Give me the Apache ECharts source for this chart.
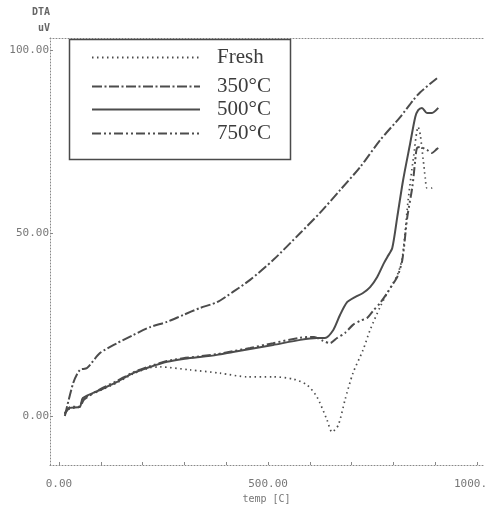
<!DOCTYPE html>
<html>
<head>
<meta charset="utf-8">
<script src="https://cdn.jsdelivr.net/npm/echarts@6/dist/echarts.min.js"></script>
<style>
  html, body { margin: 0; padding: 0; background: #fff; }
  #dtaChart { width: 485px; height: 505px; }
</style>
</head>
<body>
<div id="dtaChart"></div>
<script>
// temperature (C) / DTA (uV)
const tempFresh = [14, 26, 50, 57, 98, 139, 177, 218, 242, 313, 385, 450, 512, 560, 593, 617, 641, 653, 668, 684, 703, 727, 744, 768, 785, 809, 821, 835, 847, 859, 864, 871, 876, 880, 892, 900];
const dtaFresh  = [0.8, 2, 2.5, 4.7, 6.9, 9.1, 11.5, 13.2, 13.4, 12.6, 11.7, 10.7, 10.7, 10.1, 8.5, 5.2, -1.1, -4.4, -2.5, 4.4, 11.7, 18, 23.5, 29.8, 33.6, 38.5, 43.2, 59, 70, 79, 76.8, 70, 65, 62.3, 62.3, 62.8];

const temp350 = [14, 34, 50, 67, 98, 139, 177, 218, 258, 297, 337, 378, 416, 457, 512, 577, 624, 672, 720, 768, 816, 847, 864, 904];
const dta350  = [0, 9, 12.6, 13.1, 17.2, 19.9, 22.1, 24.3, 25.7, 27.6, 29.5, 31.1, 33.9, 37.2, 42.6, 50, 55.5, 61.7, 68, 75.4, 81.7, 86.3, 88.5, 92.3];

const temp500 = [14, 26, 50, 57, 98, 139, 177, 218, 258, 297, 337, 378, 416, 457, 512, 577, 617, 636, 656, 672, 689, 708, 727, 744, 761, 775, 785, 797, 809, 823, 840, 852, 859, 868, 880, 892, 907];
const dta500  = [0.8, 2.2, 2.5, 4.9, 7.1, 9.3, 11.7, 13.4, 14.8, 15.6, 16.1, 16.7, 17.5, 18.3, 19.4, 20.8, 21.3, 21.3, 23.5, 27.6, 31.1, 32.5, 33.6, 35.2, 38, 41.3, 43.4, 45.9, 54.4, 64.5, 74.6, 81.7, 83.6, 84.2, 82.8, 82.8, 84.2];

const temp750 = [14, 26, 50, 60, 98, 139, 177, 218, 258, 297, 337, 378, 416, 457, 512, 577, 610, 632, 648, 665, 684, 703, 720, 737, 751, 768, 785, 797, 809, 821, 833, 845, 852, 856, 864, 880, 892, 904, 911];
const dta750  = [0.5, 2.4, 2.6, 4.5, 7.3, 9.6, 11.9, 13.6, 15, 15.8, 16.3, 16.9, 17.7, 18.6, 19.9, 21.4, 21.6, 20.5, 19.9, 21.3, 22.7, 24.9, 26, 26.8, 28.7, 30.9, 33.6, 35.8, 38, 42.6, 54.4, 62.6, 69.9, 73.2, 73.5, 72.7, 71.9, 73, 73.5];

const seriesNames = ["Fresh", "350°C", "500°C", "750°C"];
const xLabelValues = [0, 500, 1000];
const xTickValues = [0, 100, 200, 300, 400, 500, 600, 700, 800, 900, 1000];
const yLabelValues = [0, 50, 100];

const zip = (xs, ys) => xs.map((x, i) => [x, ys[i]]);

const lineColor = "#4c4c4c";
const dashes = [[1.5, 3.5], [10, 2.5, 2, 2.5], "solid", [9, 3, 2, 3, 2, 3]];
const curves = [zip(tempFresh, dtaFresh), zip(temp350, dta350), zip(temp500, dta500), zip(temp750, dta750)];
const legendTops = [47, 76, 99, 123];

let myChart = echarts.init(document.getElementById("dtaChart"));

myChart.setOption({
  animation: false,
  grid: { left: 50, right: 2, top: 38, bottom: 40, containLabel: false, outerBoundsMode: "none" },
  legend: seriesNames.map((n, i) => ({
    data: [n],
    orient: "vertical",
    left: 91,
    top: legendTops[i],
    padding: 0,
    itemWidth: 108,
    itemHeight: 22,
    selectedMode: false,
    itemStyle: { opacity: 0 },
    textStyle: {
      fontFamily: "Liberation Serif",
      fontSize: 21,
      color: "#3c3c3c",
      padding: [0, 0, 0, 12]
    }
  })),
  graphic: [{
    type: "rect",
    left: 67,
    top: 37,
    shape: { width: 221, height: 120 },
    style: { fill: "none", stroke: "#4a4a4a", lineWidth: 1.5 },
    z: 10
  }],
  xAxis: [{
    type: "value",
    min: -21.5,
    max: 1014,
    name: "temp [C]",
    nameLocation: "middle",
    nameGap: 25,
    nameTextStyle: { fontFamily: "DejaVu Sans Mono", fontSize: 10, color: "#777" },
    axisLine: { show: true, onZero: false, lineStyle: { color: "#888", type: [1, 2], width: 1 } },
    axisTick: { show: true, inside: true, length: 3, customValues: xTickValues, lineStyle: { color: "#888" } },
    axisLabel: {
      customValues: xLabelValues,
      formatter: v => v.toFixed(2),
      margin: 14,
      fontFamily: "DejaVu Sans Mono",
      fontSize: 11,
      color: "#777"
    },
    splitLine: { show: false }
  }, {
    type: "value",
    position: "top",
    min: -21.5,
    max: 1014,
    axisLine: { show: true, onZero: false, lineStyle: { color: "#888", type: [1, 2], width: 1 } },
    axisTick: { show: false },
    axisLabel: { show: false },
    splitLine: { show: false }
  }],
  yAxis: {
    type: "value",
    min: -13.4,
    max: 103.3,
    name: "DTA\nuV",
    nameLocation: "end",
    nameGap: 2,
    nameTextStyle: {
      align: "right",
      verticalAlign: "bottom",
      fontFamily: "DejaVu Sans Mono",
      fontWeight: "bold",
      fontSize: 10,
      lineHeight: 16,
      color: "#666"
    },
    axisLine: { show: true, onZero: false, lineStyle: { color: "#888", type: [1, 2], width: 1 } },
    axisTick: { show: true, inside: true, length: 3, customValues: yLabelValues, lineStyle: { color: "#888" } },
    axisLabel: {
      customValues: yLabelValues,
      formatter: v => v.toFixed(2),
      margin: 1,
      fontFamily: "DejaVu Sans Mono",
      fontSize: 11,
      color: "#777"
    },
    splitLine: { show: false }
  },
  series: seriesNames.map((n, i) => ({
    name: n,
    type: "line",
    data: curves[i],
    symbol: "none",
    smooth: 0.25,
    lineStyle: { color: lineColor, width: i === 0 ? 1.7 : 2, type: dashes[i] },
    itemStyle: { color: lineColor },
    z: i === 0 ? 1 : 2
  }))
});
</script>
</body>
</html>
